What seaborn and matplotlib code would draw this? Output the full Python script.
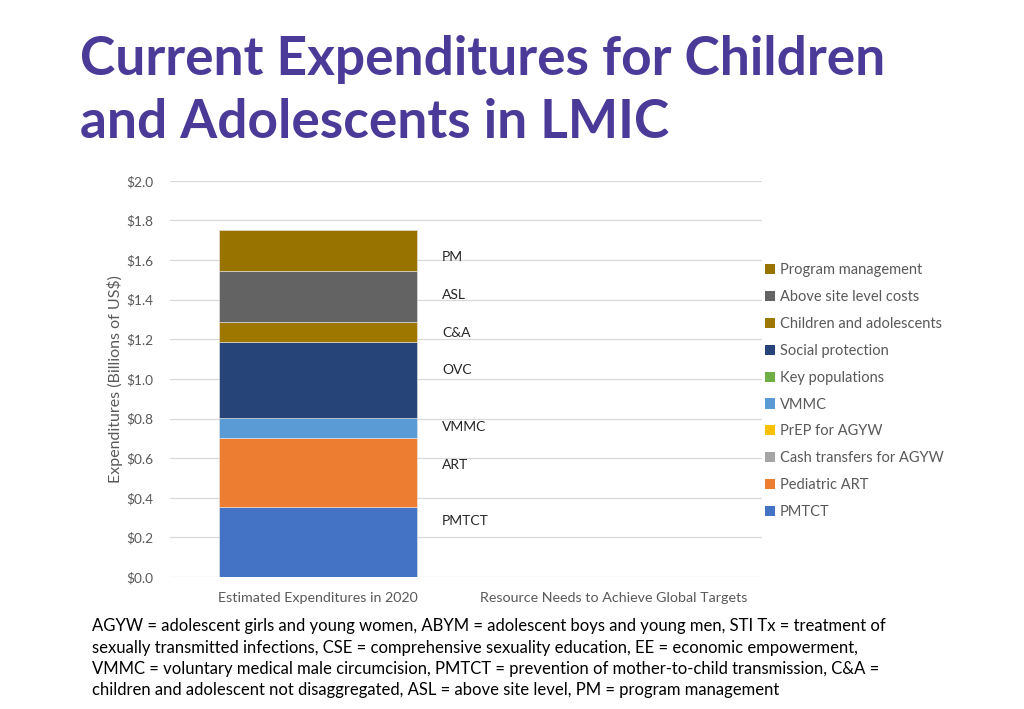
import matplotlib
matplotlib.use("Agg")
import matplotlib.pyplot as plt
from matplotlib.patches import Patch
import numpy as np
import pandas as pd
import seaborn as sns

# chart data
categories = ["Estimated Expenditures in 2020", "Resource Needs to Achieve Global Targets"]
components = ["PMTCT", "Pediatric ART", "Cash transfers for AGYW", "PrEP for AGYW", "VMMC",
              "Key populations", "Social protection", "Children and adolescents",
              "Above site level costs", "Program management"]
spend_2020 = [0.352, 0.352, 0.0, 0.0, 0.097, 0.004, 0.382, 0.098, 0.262, 0.206]
needs_targets = [0.0, 0.0, 0.0, 0.0, 0.0, 0.0, 0.0, 0.0, 0.0, 0.0]
colors = ["#4472C4", "#ED7D31", "#A5A5A5", "#FFC000", "#5B9BD5",
          "#70AD47", "#264478", "#9E7700", "#636363", "#997300"]
seg_labels = ["PMTCT", "ART", "VMMC", "OVC", "C&A", "ASL", "PM"]
seg_label_y = [0.283, 0.566, 0.758, 1.045, 1.232, 1.424, 1.616]

df = pd.DataFrame({"component": np.repeat(components, 2),
                   "category": categories * len(components),
                   "value": [v for pair in zip(spend_2020, needs_targets) for v in pair]})

sns.set_style("white")
plt.rcParams["font.family"] = ["Lato", "DejaVu Sans"]
grey = "#595959"

fig = plt.figure(figsize=(10.24, 7.09), dpi=100)
ax = fig.add_axes([0.166, 0.186, 0.578, 0.559])

bottom = np.zeros(len(categories))
for comp, col in zip(components, colors):
    vals = df[df["component"] == comp]["value"].to_numpy()
    sns.barplot(x=categories, y=vals, bottom=bottom, color=col, width=0.67, saturation=1,
                edgecolor="#e8e8e8", linewidth=0.4, ax=ax, zorder=3)
    bottom = bottom + vals

for lab, yv in zip(seg_labels, seg_label_y):
    ax.text(0.42, yv, lab, fontsize=10, color="#262626", va="center", ha="left")

ax.set_ylim(0, 2.0)
ax.set_xlim(-0.5, 1.5)
ax.set_yticks(np.arange(0, 2.01, 0.2))
ax.set_yticklabels([f"\\${v:.1f}" for v in np.arange(0, 2.01, 0.2)])
ax.yaxis.grid(True, color="#D9D9D9", linewidth=0.9, zorder=0)
ax.tick_params(axis="y", length=0, labelsize=9.8, labelcolor=grey, pad=12)
ax.tick_params(axis="x", length=0, labelsize=10.3, labelcolor=grey, pad=11)
ax.set_ylabel("Expenditures (Billions of US\\$)", fontsize=11.5, color=grey, labelpad=2)
ax.set_xlabel("")
sns.despine(ax=ax, left=True, bottom=True)

handles = [Patch(facecolor=c, edgecolor="none") for c in colors[::-1]]
fig.legend(handles, components[::-1], loc="upper left", bbox_to_anchor=(0.734, 0.647),
           frameon=False, fontsize=10.5, labelcolor=grey, handlelength=0.7, handleheight=0.7,
           handletextpad=0.35, labelspacing=0.88)

fig.text(0.078, 0.951, "Current Expenditures for Children\nand Adolescents in LMIC",
         fontsize=38.3, fontweight="bold", color="#4B3A97", va="top", ha="left", linespacing=1.36)

note = ("AGYW = adolescent girls and young women, ABYM = adolescent boys and young men, STI Tx = treatment of\n"
        "sexually transmitted infections, CSE = comprehensive sexuality education, EE = economic empowerment,\n"
        "VMMC = voluntary medical male circumcision, PMTCT = prevention of mother-to-child transmission, C&A =\n"
        "children and adolescent not disaggregated, ASL = above site level, PM = program management")
fig.text(0.09, 0.128, note, fontsize=12, color="black", va="top", ha="left", linespacing=1.41)

fig.savefig("out.png", dpi=100)
